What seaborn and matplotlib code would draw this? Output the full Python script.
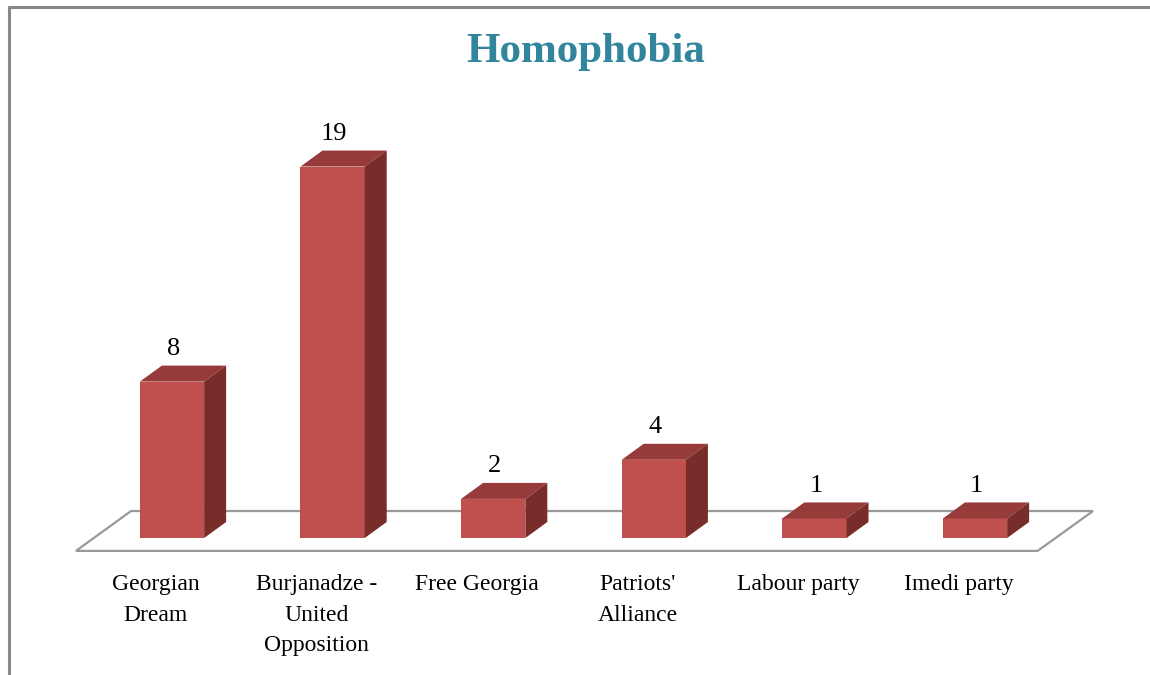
import pandas as pd
import seaborn as sns
import matplotlib.pyplot as plt
from matplotlib.patches import Polygon
from matplotlib.lines import Line2D

# Datos del grafico
parties = ["Georgian\nDream", "Burjanadze -\nUnited\nOpposition", "Free Georgia",
           "Patriots'\nAlliance", "Labour party", "Imedi party"]
counts = [8, 19, 2, 4, 1, 1]
title = "Homophobia"

df = pd.DataFrame({"party": parties, "count": counts})

sns.set_theme(style="white")
plt.rcParams['font.family'] = ['Liberation Serif', 'DejaVu Serif']

front = "#C0504D"
top_c = "#963B39"
side_c = "#782D2B"

fig = plt.figure(figsize=(11.5, 6.75), dpi=100)
ax = fig.add_axes([0, 0, 1, 1])
sns.barplot(data=df, x="party", y="count", color=front, width=0.4,
            saturation=1, ax=ax, zorder=3, linewidth=0)

# escala: 160.6 px por categoria, 19.55 px por unidad
ax.set_xlim(-172 / 160.6, (1150 - 172) / 160.6)
ax.set_ylim(-(675 - 538) / 19.55, 538 / 19.55)
ax.axis("off")

n = len(parties)
# piso en perspectiva
floor = Polygon([(-0.598, -0.66), (n - 1 + 0.39, -0.66),
                 (n - 1 + 0.735, 1.38), (-0.255, 1.38)],
                closed=True, facecolor="white", edgecolor="#999999",
                linewidth=1.6, zorder=1)
ax.add_patch(floor)

# caras superiores y laterales (efecto 3D)
dx, dy = 22 / 160.6, 16 / 19.55
for bar, val in zip(ax.patches, counts):
    x0 = bar.get_x()
    w = bar.get_width()
    h = bar.get_height()
    x1 = x0 + w
    ax.add_patch(Polygon([(x0, h), (x1, h), (x1 + dx, h + dy), (x0 + dx, h + dy)],
                         closed=True, facecolor=top_c, edgecolor="none", zorder=3))
    ax.add_patch(Polygon([(x1, 0), (x1 + dx, dy), (x1 + dx, h + dy), (x1, h)],
                         closed=True, facecolor=side_c, edgecolor="none", zorder=3))
    ax.text(x0 + w / 2 + 0.01, h + dy + 0.3, str(val), ha="center", va="bottom",
            fontsize=19, color="black")

for i, name in enumerate(parties):
    ax.text(i - 0.1, -1.85, name, ha="center", va="top", fontsize=17,
            color="black", linespacing=1.6)

fig.text(586 / 1150, 1 - 52 / 675, title, ha="center", va="center",
         fontsize=31, fontweight="bold", color="#31859C")

# marco
fig.add_artist(Line2D([9 / 1150, 1], [1 - 7 / 675, 1 - 7 / 675],
                      color="#888888", linewidth=2.2, transform=fig.transFigure))
fig.add_artist(Line2D([9 / 1150, 9 / 1150], [0, 1 - 7 / 675],
                      color="#888888", linewidth=2.2, transform=fig.transFigure))

fig.savefig("out.png", dpi=100)
